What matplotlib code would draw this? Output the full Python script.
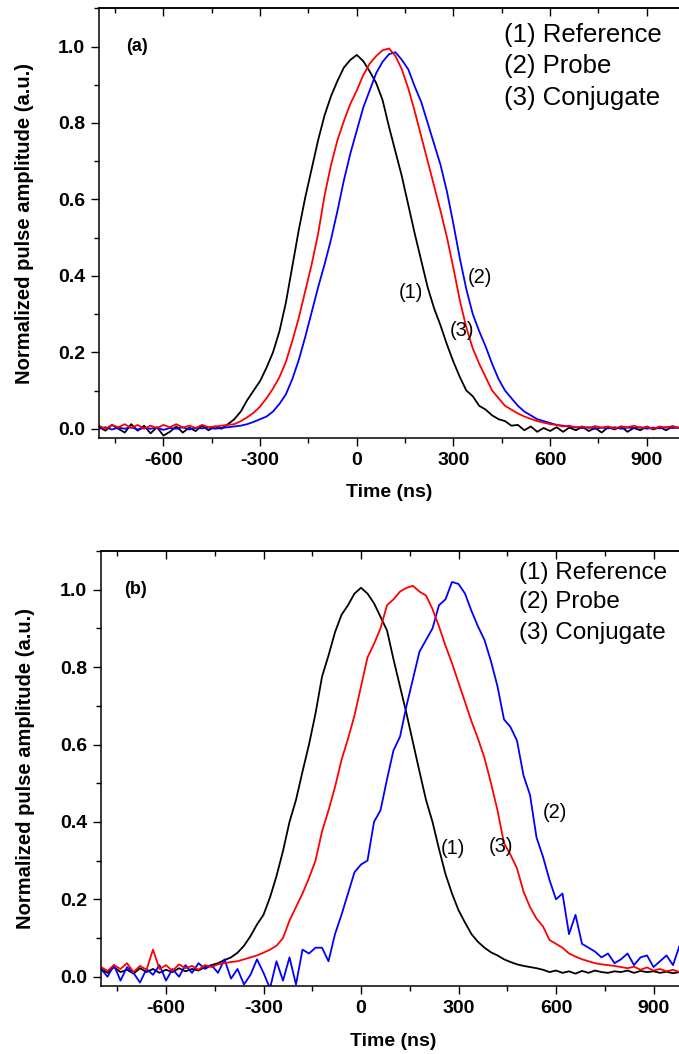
import numpy as np
import matplotlib
matplotlib.use('Agg')
import matplotlib.pyplot as plt
from matplotlib.ticker import MultipleLocator, FormatStrFormatter

plt.rcParams['font.family'] = ['Liberation Sans', 'DejaVu Sans']
plt.rcParams['axes.unicode_minus'] = False

# sample times (ns), one reading every 20 ns
time_ns = np.arange(-800, 1001, 20)

# panel (a) -- readings
ref_a = [0.005, -0.005, 0.010, 0.000, -0.010, 0.012, -0.005, 0.008, -0.012, 0.004,
         -0.018, -0.008, 0.006, -0.010, 0.003, -0.006, 0.008, -0.004, 0.006, 0.000,
         0.012, 0.025, 0.045, 0.075, 0.100, 0.125, 0.160, 0.200, 0.255, 0.330,
         0.425, 0.520, 0.605, 0.680, 0.755, 0.820, 0.870, 0.910, 0.945, 0.965,
         0.978, 0.962, 0.935, 0.905, 0.860, 0.790, 0.725, 0.660, 0.585, 0.510,
         0.440, 0.370, 0.315, 0.270, 0.220, 0.175, 0.135, 0.100, 0.085, 0.060,
         0.050, 0.035, 0.025, 0.020, 0.008, 0.010, -0.004, 0.006, -0.008, 0.002,
         -0.006, 0.004, -0.008, 0.003, -0.004, 0.005, -0.006, 0.002, -0.010, 0.004,
         -0.002, 0.006, -0.008, 0.002, -0.004, 0.006, -0.002, 0.004, -0.004, 0.006,
         0.002]
probe_a = [0.000, 0.004, -0.002, 0.003, 0.000, 0.004, -0.002, 0.002, 0.000, 0.003,
           -0.003, 0.002, 0.000, 0.004, -0.002, 0.002, 0.001, 0.003, 0.000, 0.002,
           0.004, 0.006, 0.008, 0.012, 0.018, 0.025, 0.032, 0.045, 0.065, 0.090,
           0.130, 0.180, 0.240, 0.305, 0.370, 0.430, 0.495, 0.570, 0.650, 0.720,
           0.780, 0.840, 0.885, 0.930, 0.960, 0.980, 0.985, 0.965, 0.940, 0.895,
           0.855, 0.800, 0.745, 0.690, 0.620, 0.535, 0.445, 0.365, 0.300, 0.255,
           0.215, 0.170, 0.130, 0.100, 0.080, 0.060, 0.045, 0.035, 0.025, 0.020,
           0.015, 0.010, 0.008, 0.005, 0.004, 0.002, 0.004, 0.000, 0.003, 0.001,
           0.004, 0.000, 0.003, 0.002, 0.004, 0.000, 0.003, 0.001, 0.004, 0.002,
           0.003]
conj_a = [0.008, 0.000, 0.010, 0.004, 0.012, 0.002, 0.010, 0.000, 0.008, 0.002,
          0.010, 0.004, 0.012, 0.003, 0.008, 0.002, 0.010, 0.004, 0.006, 0.008,
          0.010, 0.012, 0.020, 0.030, 0.042, 0.058, 0.080, 0.105, 0.135, 0.175,
          0.230, 0.290, 0.360, 0.430, 0.510, 0.610, 0.690, 0.755, 0.805, 0.850,
          0.885, 0.925, 0.955, 0.975, 0.990, 0.995, 0.975, 0.940, 0.890, 0.830,
          0.765, 0.700, 0.635, 0.570, 0.500, 0.420, 0.335, 0.265, 0.210, 0.170,
          0.135, 0.100, 0.080, 0.060, 0.050, 0.040, 0.032, 0.026, 0.020, 0.016,
          0.012, 0.010, 0.006, 0.008, 0.003, 0.006, 0.002, 0.007, 0.003, 0.006,
          0.001, 0.006, 0.004, 0.008, 0.002, 0.005, 0.000, 0.006, 0.003, 0.007,
          0.002]

# panel (b)
ref_b = [0.020, 0.010, 0.025, 0.012, 0.018, 0.008, 0.022, 0.012, 0.020, 0.010,
         0.018, 0.012, 0.022, 0.014, 0.020, 0.016, 0.025, 0.030, 0.035, 0.043,
         0.050, 0.062, 0.080, 0.105, 0.135, 0.160, 0.205, 0.260, 0.325, 0.400,
         0.457, 0.530, 0.600, 0.680, 0.775, 0.830, 0.890, 0.935, 0.960, 0.990,
         1.005, 0.990, 0.965, 0.930, 0.895, 0.820, 0.750, 0.680, 0.605, 0.530,
         0.457, 0.400, 0.330, 0.265, 0.215, 0.172, 0.140, 0.110, 0.090, 0.075,
         0.063, 0.055, 0.045, 0.038, 0.032, 0.028, 0.025, 0.022, 0.018, 0.012,
         0.016, 0.010, 0.014, 0.008, 0.015, 0.010, 0.016, 0.012, 0.010, 0.014,
         0.012, 0.016, 0.010, 0.015, 0.012, 0.014, 0.010, 0.013, 0.009, 0.012,
         0.010]
probe_b = [0.020, 0.000, 0.030, -0.010, 0.025, 0.010, -0.015, 0.020, 0.005, 0.030,
           -0.010, 0.020, 0.000, 0.030, 0.010, 0.035, 0.020, 0.030, 0.010, 0.045,
           -0.005, 0.020, -0.020, 0.005, 0.045, 0.010, -0.030, 0.040, -0.010, 0.050,
           -0.020, 0.070, 0.060, 0.075, 0.075, 0.040, 0.110, 0.160, 0.215, 0.270,
           0.290, 0.300, 0.400, 0.430, 0.510, 0.585, 0.620, 0.700, 0.770, 0.840,
           0.870, 0.900, 0.960, 0.975, 1.020, 1.015, 0.990, 0.945, 0.905, 0.870,
           0.815, 0.750, 0.665, 0.645, 0.610, 0.520, 0.470, 0.360, 0.310, 0.250,
           0.200, 0.215, 0.110, 0.160, 0.085, 0.075, 0.065, 0.050, 0.060, 0.035,
           0.045, 0.060, 0.030, 0.050, 0.055, 0.025, 0.040, 0.055, 0.030, 0.080,
           0.040]
conj_b = [0.025, 0.015, 0.030, 0.020, 0.035, 0.012, 0.028, 0.018, 0.070, 0.020,
          0.030, 0.015, 0.032, 0.022, 0.028, 0.018, 0.030, 0.025, 0.032, 0.035,
          0.038, 0.040, 0.045, 0.050, 0.055, 0.062, 0.070, 0.080, 0.100, 0.145,
          0.180, 0.215, 0.255, 0.300, 0.375, 0.430, 0.490, 0.560, 0.615, 0.675,
          0.750, 0.825, 0.860, 0.900, 0.960, 0.975, 0.995, 1.005, 1.010, 0.995,
          0.985, 0.950, 0.905, 0.855, 0.810, 0.760, 0.710, 0.660, 0.615, 0.565,
          0.500, 0.430, 0.345, 0.315, 0.280, 0.220, 0.180, 0.150, 0.130, 0.095,
          0.085, 0.075, 0.060, 0.052, 0.045, 0.040, 0.035, 0.032, 0.030, 0.028,
          0.025, 0.022, 0.026, 0.018, 0.024, 0.016, 0.020, 0.014, 0.018, 0.012,
          0.010]

legend_lines = ['(1) Reference', '(2) Probe', '(3) Conjugate']

panels = [
    # tag, (ref, probe, conj), axes rect, tag pos, legend x, legend ys, legend size,
    # curve label positions for (1), (2), (3)
    ('(a)', (ref_a, probe_a, conj_a), [99 / 679, 1 - 438.3 / 1054, 580 / 679, 430 / 1054],
     (-715, 1.0), 458, (1.030, 0.948, 0.865), 18.5,
     [(167, 0.356), (383, 0.397), (327, 0.256)]),
    ('(b)', (ref_b, probe_b, conj_b), [101 / 679, 1 - 986.4 / 1054, 585 / 679, 435.4 / 1054],
     (-728, 1.0), 486, (1.042, 0.968, 0.888), 17.5,
     [(282, 0.332), (597, 0.424), (430, 0.336)]),
]

fig = plt.figure(figsize=(6.79, 10.54), dpi=100)

for tag, (ref, probe, conj), rect, tag_xy, leg_x, leg_ys, leg_fs, lab_xy in panels:
    ax = fig.add_axes(rect)
    ax.plot(time_ns, ref, color='black', lw=1.3)
    ax.plot(time_ns, probe, color='blue', lw=1.3)
    ax.plot(time_ns, conj, color='red', lw=1.3)

    ax.set_xlim(-800, 1000)
    ax.set_ylim(-0.025, 1.1)
    ax.spines['right'].set_visible(False)
    for s in ['left', 'bottom', 'top']:
        ax.spines[s].set_linewidth(1.1)

    ax.xaxis.set_major_locator(MultipleLocator(300))
    ax.xaxis.set_minor_locator(MultipleLocator(150))
    ax.yaxis.set_major_locator(MultipleLocator(0.2))
    ax.yaxis.set_minor_locator(MultipleLocator(0.1))
    ax.yaxis.set_major_formatter(FormatStrFormatter('%.1f'))
    ax.tick_params(which='major', direction='out', length=6, width=1.0,
                   labelsize=14, pad=4)
    ax.tick_params(which='minor', direction='out', length=3.5, width=1.0)
    for lbl in ax.get_xticklabels() + ax.get_yticklabels():
        lbl.set_fontweight('bold')

    # ticks on the top edge point inwards
    top = ax.secondary_xaxis('top')
    top.xaxis.set_major_locator(MultipleLocator(300))
    top.xaxis.set_minor_locator(MultipleLocator(150))
    top.tick_params(which='major', direction='in', length=6, width=1.0, labeltop=False)
    top.tick_params(which='minor', direction='in', length=3.5, width=1.0)
    top.spines['top'].set_linewidth(1.1)

    ax.set_xlabel('Time (ns)', fontsize=14, fontweight='bold', labelpad=11)
    ax.set_ylabel('Normalized pulse amplitude (a.u.)', fontsize=14.5, fontweight='bold')
    ax.yaxis.set_label_coords(-0.112, 0.5)

    ax.text(tag_xy[0], tag_xy[1], tag, fontsize=13, fontweight='bold', va='center')
    for txt, y in zip(legend_lines, leg_ys):
        ax.text(leg_x, y, txt, fontsize=leg_fs, va='center')
    for i, (lx, ly) in enumerate(lab_xy):
        ax.text(lx, ly, '(%d)' % (i + 1), fontsize=14.5, ha='center', va='center')

fig.savefig('out.png', dpi=100)
